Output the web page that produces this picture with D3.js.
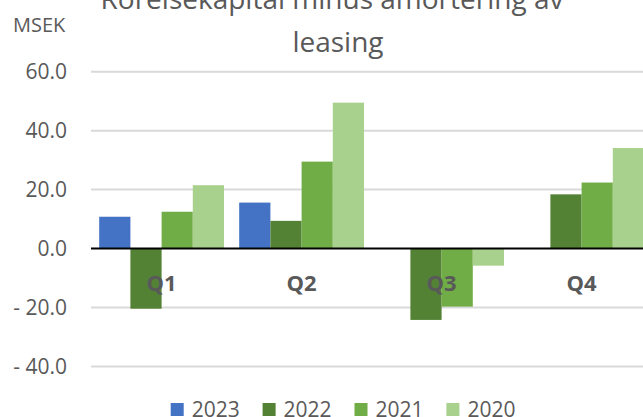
<!DOCTYPE html>
<html>
<head>
<meta charset="utf-8">
<script src="https://cdn.jsdelivr.net/npm/d3@7"></script>
<style>
  body { margin: 0; background: #fff; }
  text { font-family: "Open Sans", sans-serif; fill: #595959; }
</style>
</head>
<body>
<svg id="chart" width="643" height="417"></svg>
<script>
"use strict";

const quarters = ["Q1", "Q2", "Q3", "Q4"];
const years = ["2023", "2022", "2021", "2020"];
const values2023 = [10.8, 15.6, null, null];
const values2022 = [-20.4, 9.4, -24.2, 18.4];
const values2021 = [12.5, 29.5, -19.7, 22.4];
const values2020 = [21.5, 49.5, -5.8, 34.1];
const yTicks = [-40, -20, 0, 20, 40, 60];
const colors = ["#4472C4", "#548235", "#70AD47", "#A9D18E"];

const seriesValues = [values2023, values2022, values2021, values2020];

let svg = d3.select("#chart"),
  x0 = d3.scaleBand().domain(quarters).range([91.6, 651.6]).padding(0),
  x1 = d3.scaleBand().domain(years).range([0, x0.bandwidth()]).paddingInner(0).paddingOuter(0.2436),
  y = d3.scaleLinear().domain([-40, 60]).range([366.5, 71.7]),
  color = d3.scaleOrdinal().domain(years).range(colors)
;

// title
let title = svg.append("text")
  .attr("text-anchor", "middle")
  .style("font-size", "28px");
title.append("tspan").attr("x", 332).attr("y", 9).text("Rörelsekapital minus amortering av");
title.append("tspan").attr("x", 338).attr("y", 52).text("leasing");

svg.append("text")
  .attr("x", 13)
  .attr("y", 32)
  .style("font-size", "20px")
  .text("MSEK");

// grid
svg.append("g")
  .selectAll("line")
  .data(yTicks.filter(d => d !== 0))
  .enter()
  .append("line")
  .attr("x1", 91)
  .attr("x2", 643)
  .attr("y1", d => y(d))
  .attr("y2", d => y(d))
  .attr("stroke", "#d9d9d9")
  .attr("stroke-width", 2);

// y axis labels
svg.append("g")
  .call(d3.axisLeft(y).tickValues(yTicks).tickSize(0).tickPadding(0)
    .tickFormat(d => d < 0 ? "- " + d3.format(".1f")(-d) : d3.format(".1f")(d)))
  .attr("transform", "translate(67,0)")
  .call(g => g.select(".domain").remove())
  .selectAll("text")
  .attr("fill", "#595959")
  .style("font-family", "'Open Sans', sans-serif")
  .style("font-size", "21px");

// bars
let rows = [];
quarters.forEach(function(q, i) {
  years.forEach(function(yr, j) {
    let v = seriesValues[j][i];
    if (v !== null) rows.push({ q: q, year: yr, value: v });
  });
});

svg.append("g")
  .selectAll("rect")
  .data(rows)
  .enter()
  .append("rect")
  .attr("x", d => x0(d.q) + x1(d.year))
  .attr("width", x1.bandwidth())
  .attr("y", d => y(Math.max(0, d.value)))
  .attr("height", d => Math.abs(y(d.value) - y(0)))
  .attr("fill", d => color(d.year));

// zero line
svg.append("line")
  .attr("x1", 91)
  .attr("x2", 643)
  .attr("y1", y(0))
  .attr("y2", y(0))
  .attr("stroke", "#000")
  .attr("stroke-width", 2);

// category labels
svg.append("g")
  .selectAll("text")
  .data(quarters)
  .enter()
  .append("text")
  .attr("x", d => x0(d) + x0.bandwidth() / 2)
  .attr("y", y(0) + 42)
  .attr("text-anchor", "middle")
  .style("font-size", "22px")
  .style("font-weight", "bold")
  .text(d => d);

// legend
let legend = svg.append("g")
  .selectAll("g")
  .data(years)
  .enter()
  .append("g")
  .attr("transform", (d, i) => "translate(" + (170.7 + i * 91.9) + ",403)");

legend.append("rect")
  .attr("width", 13)
  .attr("height", 13)
  .attr("fill", d => color(d));

legend.append("text")
  .attr("x", 21)
  .attr("y", 14)
  .style("font-size", "21px")
  .text(d => d);
</script>
</body>
</html>
